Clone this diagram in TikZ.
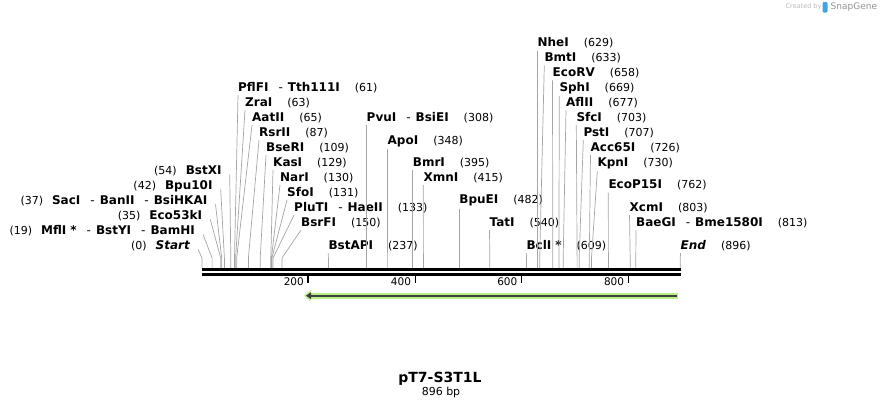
\documentclass[tikz,border=0pt]{standalone}
\usepackage{fontspec}
\setmainfont{DejaVu Sans}
\usetikzlibrary{arrows.meta}
\definecolor{leadgray}{RGB}{165,165,165}
\definecolor{featgreen}{RGB}{182,240,132}
\definecolor{featdark}{RGB}{62,62,62}
\definecolor{snapblue}{RGB}{64,164,232}
\newcommand{\rnum}[1]{\hspace{15pt}{\mdseries\fontsize{11}{13}\selectfont(#1)}}
\newcommand{\lnum}[1]{{\mdseries\fontsize{11}{13}\selectfont(#1)}\hspace{9pt}}
\newcommand{\enzsep}{\hspace{10pt}{\mdseries-}\hspace{5pt}}

\begin{document}
\begin{tikzpicture}[x=1pt,y=-1pt,
  rlbl/.style={anchor=base west,inner xsep=0pt,inner ysep=2pt,font=\bfseries\fontsize{12}{14}\selectfont},
  llbl/.style={anchor=base east,inner xsep=8pt,inner ysep=2pt,font=\bfseries\fontsize{12}{14}\selectfont},
  leader/.style={draw=leadgray,line width=0.7pt},
  axisline/.style={line width=2.6pt},
  tickmark/.style={line width=1.4pt},
  ticklbl/.style={anchor=east,inner sep=0pt,font=\fontsize{10.5}{12}\selectfont}]
\useasboundingbox (0,0) rectangle (883,408);

\coordinate (axtop) at (0,269);
\coordinate (tickend) at (0,283.3);
\coordinate (axL) at (202,269.7);
\coordinate (axR) at (681,269.7);
\coordinate (axL2) at (202,274.7);
\coordinate (axR2) at (681,274.7);

\coordinate (s0) at (202,258);
\coordinate (s19) at (212.1,258);
\coordinate (s35) at (220.7,258);
\coordinate (s37) at (221.7,258);
\coordinate (s42) at (224.4,258);
\coordinate (s54) at (230.8,258);
\coordinate (s61) at (234.5,258);
\coordinate (s63) at (235.6,258);
\coordinate (s65) at (236.7,258);
\coordinate (s87) at (248.4,258);
\coordinate (s109) at (260.2,258);
\coordinate (s129) at (270.8,258);
\coordinate (s130) at (271.4,258);
\coordinate (s131) at (271.9,258);
\coordinate (s133) at (273.0,258);
\coordinate (s150) at (282.0,258);
\coordinate (s237) at (328.4,258);
\coordinate (s308) at (366.5,258);
\coordinate (s348) at (387.6,258);
\coordinate (s395) at (412.7,258);
\coordinate (s415) at (423.4,258);
\coordinate (s482) at (459.2,258);
\coordinate (s540) at (489.8,258);
\coordinate (s609) at (526.5,258);
\coordinate (s629) at (537.5,258);
\coordinate (s633) at (539.7,258);
\coordinate (s658) at (552.8,258);
\coordinate (s669) at (558.9,258);
\coordinate (s677) at (563.2,258);
\coordinate (s703) at (577.1,258);
\coordinate (s707) at (579.2,258);
\coordinate (s726) at (589.3,258);
\coordinate (s730) at (591.5,258);
\coordinate (s762) at (608.4,258);
\coordinate (s803) at (630.2,258);
\coordinate (s813) at (635.8,258);
\coordinate (s896) at (680.3,258);

\node[llbl] at (229.7,174.4) (bstx) {\lnum{54}BstXI};
\node[llbl] at (220.7,189.4) (bpu) {\lnum{42}Bpu10I};
\node[llbl] at (215.5,204.4) (sac) {\lnum{37}SacI\enzsep BanII\enzsep BsiHKAI};
\node[llbl] at (210.3,219.4) (eco53) {\lnum{35}Eco53kI};
\node[llbl] at (203,234.4) (mfl) {\lnum{19}MflI\hspace{4pt}*\enzsep BstYI\enzsep BamHI};
\node[llbl] at (198,249.4) (start) {\lnum{0}\itshape Start};

\node[rlbl] at (238,91.4) (pfl) {PflFI\enzsep Tth111I\rnum{61}};
\node[rlbl] at (245,106.4) (zra) {ZraI\rnum{63}};
\node[rlbl] at (252,121.4) (aat) {AatII\rnum{65}};
\node[rlbl] at (259,136.4) (rsr) {RsrII\rnum{87}};
\node[rlbl] at (266,151.4) (bser) {BseRI\rnum{109}};
\node[rlbl] at (273,166.4) (kas) {KasI\rnum{129}};
\node[rlbl] at (280,181.4) (nar) {NarI\rnum{130}};
\node[rlbl] at (287,196.4) (sfo) {SfoI\rnum{131}};
\node[rlbl] at (294,211.4) (plu) {PluTI\enzsep HaeII\rnum{133}};
\node[rlbl] at (301,226.4) (bsrf) {BsrFI\rnum{150}};
\node[rlbl] at (328.3,249.4) (bstap) {BstAPI\rnum{237}};
\node[rlbl] at (366.5,121.4) (pvu) {PvuI\enzsep BsiEI\rnum{308}};
\node[rlbl] at (387.5,144.4) (apo) {ApoI\rnum{348}};
\node[rlbl] at (412.7,166.4) (bmr) {BmrI\rnum{395}};
\node[rlbl] at (423.3,181.4) (xmn) {XmnI\rnum{415}};
\node[rlbl] at (459.2,203.9) (bpue) {BpuEI\rnum{482}};
\node[rlbl] at (489.5,226.4) (tat) {TatI\rnum{540}};
\node[rlbl] at (526.3,249.4) (bcl) {BclI\hspace{4pt}*\rnum{609}};
\node[rlbl] at (537.4,46.9) (nhe) {NheI\rnum{629}};
\node[rlbl] at (544.3,61.7) (bmt) {BmtI\rnum{633}};
\node[rlbl] at (552.5,76.7) (ecorv) {EcoRV\rnum{658}};
\node[rlbl] at (559.3,91.4) (sph) {SphI\rnum{669}};
\node[rlbl] at (566,106.4) (afl) {AflII\rnum{677}};
\node[rlbl] at (576.3,121.4) (sfc) {SfcI\rnum{703}};
\node[rlbl] at (583.3,136.4) (pst) {PstI\rnum{707}};
\node[rlbl] at (590.5,151.4) (acc) {Acc65I\rnum{726}};
\node[rlbl] at (597.3,166.7) (kpn) {KpnI\rnum{730}};
\node[rlbl] at (608.3,188.9) (ecop) {EcoP15I\rnum{762}};
\node[rlbl] at (629.5,211.4) (xcm) {XcmI\rnum{803}};
\node[rlbl] at (636,226.4) (bae) {BaeGI\enzsep Bme1580I\rnum{813}};
\node[rlbl] at (680.5,249.4) (endl) {\textit{End}\rnum{896}};

\draw[leader] (bstx.base east) -- (s54) -- (s54 |- axtop);
\draw[leader] (bpu.base east) -- (s42) -- (s42 |- axtop);
\draw[leader] (sac.base east) -- (s37) -- (s37 |- axtop);
\draw[leader] (eco53.base east) -- (s35) -- (s35 |- axtop);
\draw[leader] (mfl.base east) -- (s19) -- (s19 |- axtop);
\draw[leader] (start.base east) -- (s0) -- (s0 |- axtop);

\draw[leader] (pfl.south west) -- (s61) -- (s61 |- axtop);
\draw[leader] (zra.south west) -- (s63) -- (s63 |- axtop);
\draw[leader] (aat.south west) -- (s65) -- (s65 |- axtop);
\draw[leader] (rsr.south west) -- (s87) -- (s87 |- axtop);
\draw[leader] (bser.south west) -- (s109) -- (s109 |- axtop);
\draw[leader] (kas.south west) -- (s129) -- (s129 |- axtop);
\draw[leader] (nar.south west) -- (s130) -- (s130 |- axtop);
\draw[leader] (sfo.south west) -- (s131) -- (s131 |- axtop);
\draw[leader] (plu.south west) -- (s133) -- (s133 |- axtop);
\draw[leader] (bsrf.south west) -- (s150) -- (s150 |- axtop);
\draw[leader] (bstap.south west) -- (s237) -- (s237 |- axtop);
\draw[leader] (pvu.south west) -- (s308) -- (s308 |- axtop);
\draw[leader] (apo.south west) -- (s348) -- (s348 |- axtop);
\draw[leader] (bmr.south west) -- (s395) -- (s395 |- axtop);
\draw[leader] (xmn.south west) -- (s415) -- (s415 |- axtop);
\draw[leader] (bpue.south west) -- (s482) -- (s482 |- axtop);
\draw[leader] (tat.south west) -- (s540) -- (s540 |- axtop);
\draw[leader] (bcl.south west) -- (s609) -- (s609 |- axtop);
\draw[leader] (nhe.south west) -- (s629) -- (s629 |- axtop);
\draw[leader] (bmt.south west) -- (s633) -- (s633 |- axtop);
\draw[leader] (ecorv.south west) -- (s658) -- (s658 |- axtop);
\draw[leader] (sph.south west) -- (s669) -- (s669 |- axtop);
\draw[leader] (afl.south west) -- (s677) -- (s677 |- axtop);
\draw[leader] (sfc.south west) -- (s703) -- (s703 |- axtop);
\draw[leader] (pst.south west) -- (s707) -- (s707 |- axtop);
\draw[leader] (acc.south west) -- (s726) -- (s726 |- axtop);
\draw[leader] (kpn.south west) -- (s730) -- (s730 |- axtop);
\draw[leader] (ecop.south west) -- (s762) -- (s762 |- axtop);
\draw[leader] (xcm.south west) -- (s803) -- (s803 |- axtop);
\draw[leader] (bae.south west) -- (s813) -- (s813 |- axtop);
\draw[leader] (endl.south west) -- (s896) -- (s896 |- axtop);

\draw[axisline] (axL) -- (axR);
\draw[axisline] (axL2) -- (axR2);

\coordinate (t200) at (308,275.5);
\coordinate (t400) at (415.2,275.5);
\coordinate (t600) at (521.5,275.5);
\coordinate (t800) at (628.3,275.5);
\draw[tickmark] (t200) -- (t200 |- tickend);
\draw[tickmark] (t400) -- (t400 |- tickend);
\draw[tickmark] (t600) -- (t600 |- tickend);
\draw[tickmark] (t800) -- (t800 |- tickend);
\node[ticklbl] at (304,282) (l200) {200};
\node[ticklbl] at (411.2,282) (l400) {400};
\node[ticklbl] at (517.5,282) (l600) {600};
\node[ticklbl] at (624.3,282) (l800) {800};

\coordinate (featR) at (678,295.7);
\coordinate (featL) at (304,295.7);
\draw[featgreen,line width=6pt,-{Triangle[length=6.5pt,width=11pt]}] (featR) -- (featL);
\draw[featdark,line width=2.2pt,shorten >=2pt,shorten <=1.5pt,-{Triangle[length=5pt,width=6.5pt]}] (featR) -- (featL);

\node[anchor=base,inner sep=0pt,font=\bfseries\fontsize{14}{16}\selectfont] at (440,382) (plasmid) {pT7-S3T1L};
\node[anchor=base,inner sep=0pt,font=\fontsize{11}{13}\selectfont] at (441,395) (size) {896 bp};

\node[anchor=west,inner sep=0pt,text=gray!55,font=\fontsize{6.5}{8}\selectfont] at (785.5,7) (made) {Created by};
\fill[snapblue,rounded corners=1.2pt] (822.5,2) rectangle (827.5,12.5);
\node[anchor=west,inner sep=0pt,text=gray!85,font=\fontsize{9}{10}\selectfont] at (830.5,7) (brand) {SnapGene};
\end{tikzpicture}
\end{document}
